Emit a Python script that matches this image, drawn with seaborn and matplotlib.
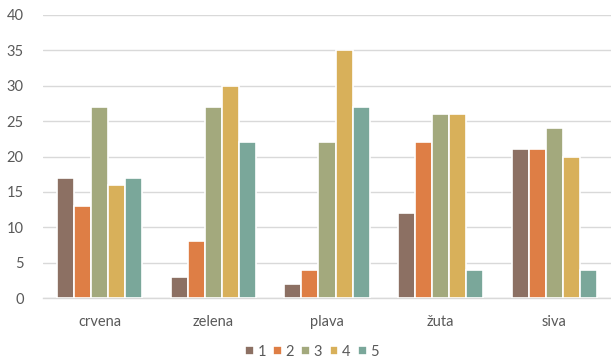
import matplotlib
matplotlib.use("Agg")
import matplotlib.pyplot as plt
import seaborn as sns
import pandas as pd

categories = ["crvena", "zelena", "plava", "žuta", "siva"]
series_names = ["1", "2", "3", "4", "5"]
s1 = [17, 3, 2, 12, 21]
s2 = [13, 8, 4, 22, 21]
s3 = [27, 27, 22, 26, 24]
s4 = [16, 30, 35, 26, 20]
s5 = [17, 22, 27, 4, 4]
colors = ["#8C7063", "#DE7E45", "#A3A97D", "#D8B05A", "#7AA79A"]

rows = []
for name, vals in zip(series_names, [s1, s2, s3, s4, s5]):
    for cat, v in zip(categories, vals):
        rows.append({"kategorija": cat, "serija": name, "vrijednost": v})
df = pd.DataFrame(rows)

sns.set_theme(style="white")
plt.rcParams["font.family"] = ["Lato", "DejaVu Sans"]

fig = plt.figure(figsize=(6.11, 3.62), dpi=100)
ax = fig.add_axes([43 / 611, 1 - 298 / 362, 1 - 43 / 611, (298 - 15) / 362])

sns.barplot(data=df, x="kategorija", y="vrijednost", hue="serija",
            palette=colors, saturation=1, width=0.75, edgecolor="white",
            linewidth=1.2, ax=ax, zorder=3)

ax.set_ylim(0, 40)
ax.set_yticks(range(0, 41, 5))
ax.set_xlim(-0.5, 4.5)
ax.yaxis.grid(True, color="#D9D9D9", linewidth=1.0, zorder=0)
ax.set_axisbelow(True)
for side in ["top", "right", "left"]:
    ax.spines[side].set_visible(False)
ax.spines["bottom"].set_color("#D9D9D9")
ax.spines["bottom"].set_linewidth(1.0)
ax.set_xlabel("")
ax.set_ylabel("")
ax.tick_params(axis="both", length=0, labelsize=10.5, labelcolor="#595959")
ax.tick_params(axis="y", pad=14)
ax.tick_params(axis="x", pad=12)

handles, labels = ax.get_legend_handles_labels()
ax.legend_.remove()
fig.legend(handles, labels, loc="center", bbox_to_anchor=(312 / 611, 1 - 352 / 362),
           ncol=5, frameon=False, fontsize=10.5, handlelength=0.6, handleheight=0.6,
           handletextpad=0.25, columnspacing=0.5, labelcolor="#595959")

fig.savefig("out.png", dpi=100)
